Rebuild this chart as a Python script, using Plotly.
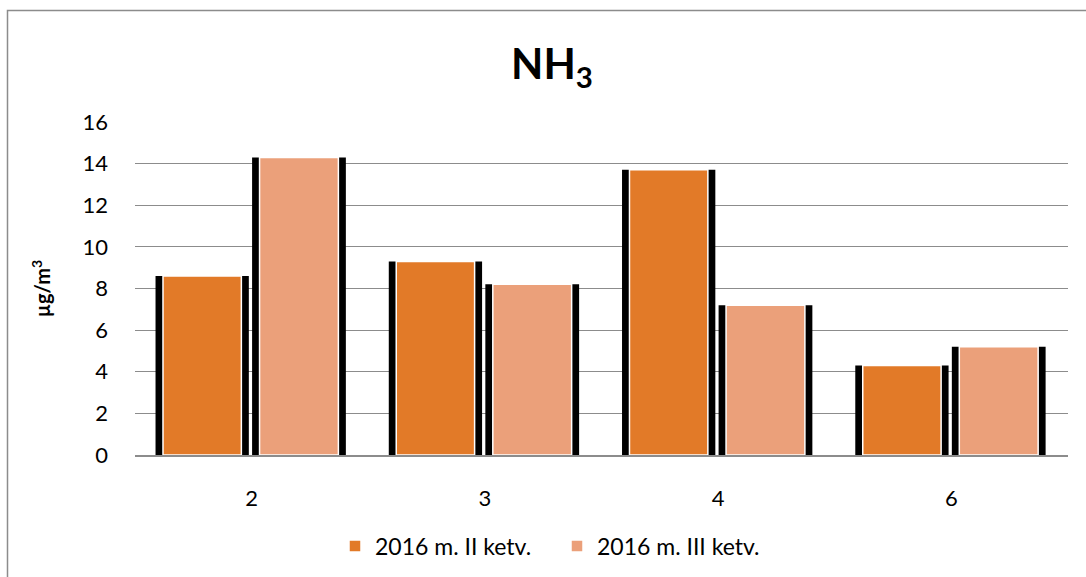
import plotly.graph_objects as go

categories = ["2", "3", "4", "6"]
series_names = ["2016 m. II ketv.", "2016 m. III ketv."]
q2_values = [8.6, 9.3, 13.7, 4.3]
q3_values = [14.3, 8.2, 7.2, 5.2]
y_ticks = [0, 2, 4, 6, 8, 10, 12, 14, 16]

W, H = 1086, 577
L, R, T, B = 135, 18, 122, 122
FONT = "Lato"

def px_x(p):
    return (p - L) / (W - L - R)

def px_y(p):
    return (H - B - p) / (H - T - B)

fig = go.Figure()

# shadow bars (black) behind
fig.add_trace(go.Bar(x=categories, y=q2_values, offset=-0.412, width=0.4,
                     marker=dict(color="black", line=dict(width=0)),
                     showlegend=False, hoverinfo="skip"))
fig.add_trace(go.Bar(x=categories, y=q3_values, offset=0.002, width=0.402,
                     marker=dict(color="black", line=dict(width=0)),
                     showlegend=False, hoverinfo="skip"))
# colored bars
fig.add_trace(go.Bar(x=categories, y=q2_values, name=series_names[0],
                     offset=-0.38, width=0.336,
                     marker=dict(color="#E27A28", line=dict(color="white", width=1.5))))
fig.add_trace(go.Bar(x=categories, y=q3_values, name=series_names[1],
                     offset=0.034, width=0.338,
                     marker=dict(color="#EBA07A", line=dict(color="white", width=1.5))))

fig.update_layout(
    width=W, height=H,
    margin=dict(l=L, r=R, t=T, b=B, autoexpand=False),
    barmode="overlay",
    paper_bgcolor="white", plot_bgcolor="white",
    font=dict(family=FONT, size=22, color="black"),
    title=dict(text="<b>NH<sub>3</sub></b>", x=552 / W, xref="container", xanchor="center",
               y=1 - 64 / H, yref="container", yanchor="middle",
               font=dict(family=FONT, size=42, color="black")),
    legend=dict(orientation="h", x=px_x(557), xanchor="center", xref="paper",
                y=px_y(546), yanchor="middle", yref="paper",
                font=dict(family=FONT, size=23), itemwidth=30,
                entrywidth=177, traceorder="normal"),
    xaxis=dict(type="category", categoryorder="array", categoryarray=categories,
               range=[-0.5, 3.5], showgrid=False, showline=True,
               linecolor="#8c8c8c", linewidth=1.5, ticks="",
               ticklabelstandoff=23, tickfont=dict(size=22), zeroline=False),
    yaxis=dict(range=[0, 16], tickvals=y_ticks, showgrid=True,
               gridcolor="#8c8c8c", gridwidth=1.2, zeroline=False,
               ticks="", ticklabelstandoff=26, tickfont=dict(size=22),
               title=dict(text="<b>µg/m<sup>3</sup></b>", font=dict(size=20),
                          standoff=26)),
    shapes=[dict(type="rect", xref="paper", yref="paper",
                 x0=px_x(7.5), x1=px_x(1095), y0=px_y(10.5), y1=px_y(590),
                 line=dict(color="#8c8c8c", width=1.5), fillcolor="rgba(0,0,0,0)",
                 layer="below")],
)

fig.write_html("out.html", config={"displayModeBar": False},
               post_script="document.body.style.margin='0';")
